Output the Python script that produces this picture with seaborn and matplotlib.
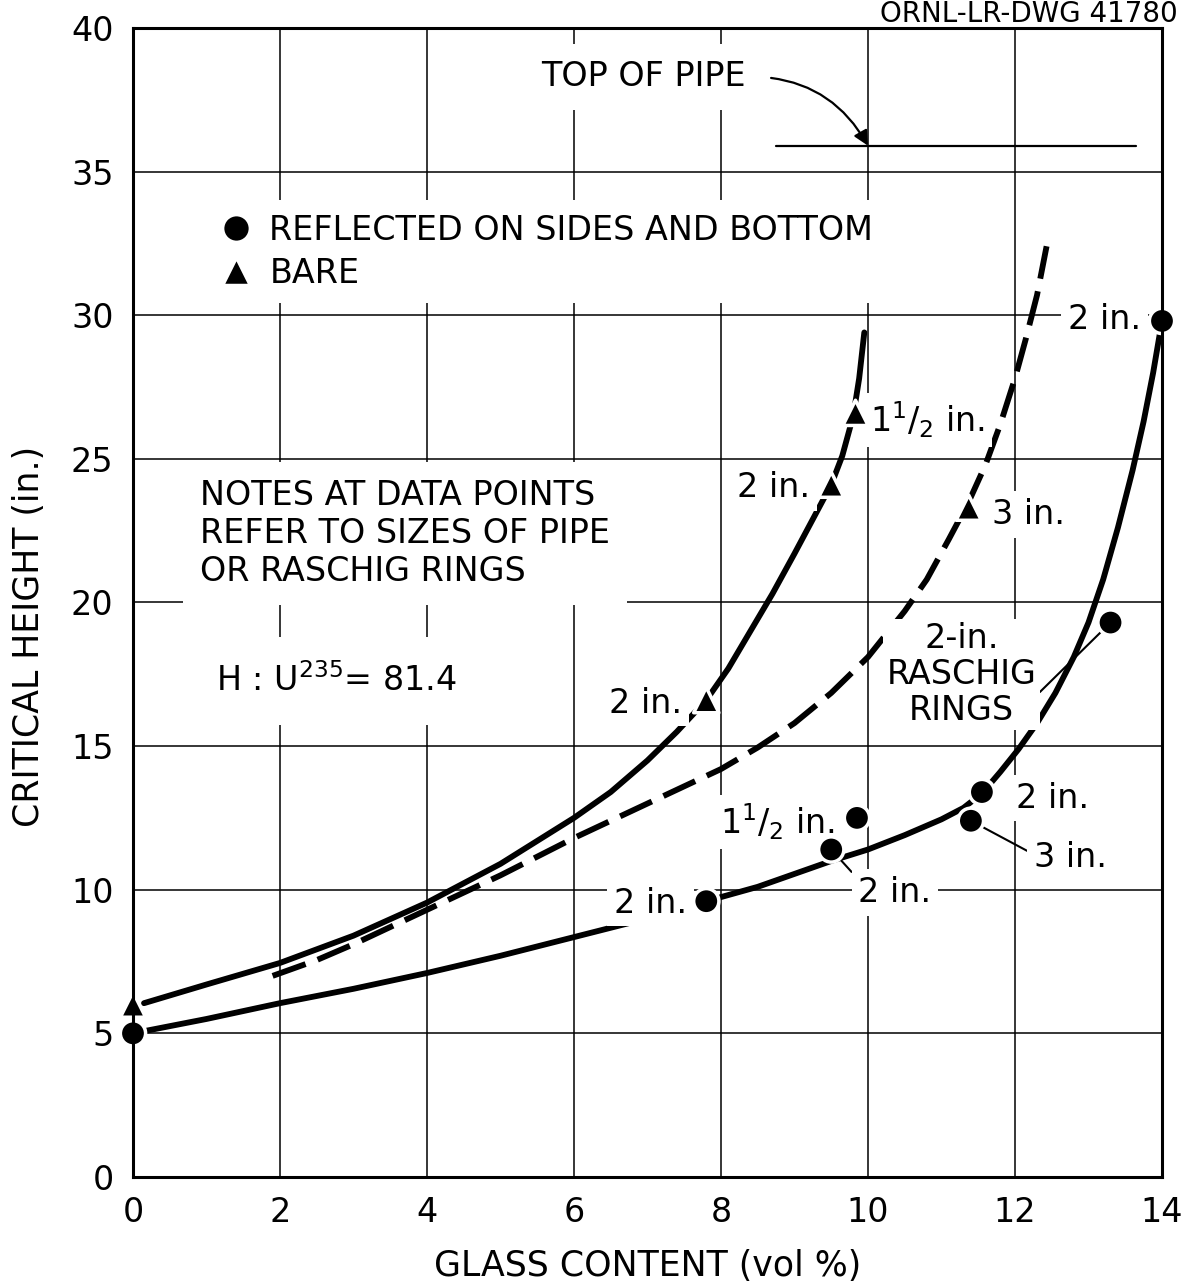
import numpy as np
import pandas as pd
import matplotlib
matplotlib.use("Agg")
import matplotlib.pyplot as plt
import seaborn as sns

sns.set_theme(style="white")
plt.rcParams['font.family'] = ['DejaVu Sans']
plt.rcParams['mathtext.fontset'] = 'dejavusans'
for k in ['text.color', 'axes.labelcolor', 'xtick.color', 'ytick.color']:
    plt.rcParams[k] = 'black'

# ---------------- data ----------------
refl_x = [0.0, 7.8, 9.5, 9.85, 11.4, 11.55, 13.3, 14.0]
refl_y = [5.0, 9.6, 11.4, 12.5, 12.4, 13.4, 19.3, 29.8]
bare_x = [0.0, 7.8, 9.5, 9.83, 11.37]
bare_y = [6.0, 16.6, 24.1, 26.6, 23.3]

# curves
bare_curve_x = [0.15, 1.0, 2.0, 3.0, 4.0, 5.0, 6.0, 6.5, 7.0, 7.4, 7.8, 8.1, 8.4, 8.7,
                9.0, 9.25, 9.5, 9.65, 9.8, 9.88, 9.95]
bare_curve_y = [6.05, 6.7, 7.45, 8.4, 9.55, 10.9, 12.5, 13.4, 14.5, 15.5, 16.6, 17.7, 19.0, 20.3,
                21.7, 22.9, 24.1, 25.1, 26.5, 27.8, 29.4]

dash_curve_x = [1.9, 2.5, 3.0, 3.5, 4.0, 4.5, 5.0, 5.5, 6.0, 6.5, 7.0, 7.5, 8.0, 8.5,
                9.0, 9.5, 10.0, 10.5, 10.8, 11.1, 11.37, 11.6, 11.8, 12.0, 12.15, 12.3, 12.43]
dash_curve_y = [7.0, 7.55, 8.1, 8.7, 9.3, 9.9, 10.5, 11.15, 11.8, 12.4, 13.0, 13.6, 14.2, 14.95,
                15.8, 16.85, 18.1, 19.7, 20.8, 22.2, 23.5, 24.8, 26.2, 27.8, 29.2, 30.7, 32.4]

refl_curve_x = [0.0, 1.0, 2.0, 3.0, 4.0, 5.0, 6.0, 7.0, 7.8, 8.5, 9.0, 9.5, 10.0, 10.5,
                11.0, 11.3, 11.55, 11.8, 12.05, 12.3, 12.55, 12.8, 13.0, 13.2, 13.4, 13.6,
                13.75, 13.88, 14.0]
refl_curve_y = [5.0, 5.5, 6.05, 6.55, 7.1, 7.7, 8.35, 9.0, 9.6, 10.1, 10.55, 11.0, 11.4, 11.9,
                12.45, 12.85, 13.35, 14.1, 14.9, 15.8, 16.85, 18.1, 19.3, 20.8, 22.6, 24.6,
                26.3, 28.0, 29.8]

pipe_top_x = [8.75, 13.65]
pipe_top_y = [35.9, 35.9]

x_ticks = [0, 2, 4, 6, 8, 10, 12, 14]
y_ticks = [0, 5, 10, 15, 20, 25, 30, 35, 40]

LBL_REFL = "REFLECTED ON SIDES AND BOTTOM"
LBL_BARE = "BARE"

HALF = r"1$^{1}$/$_{2}$ in."

# ---------------- figure ----------------
FS = 24
fig = plt.figure(figsize=(11.81, 12.87), dpi=100)
ax = fig.add_axes([0.1126, 0.0855, 0.8713, 0.8928])

ax.set_xlim(0, 14)
ax.set_ylim(0, 40)
ax.set_xticks(x_ticks)
ax.set_yticks(y_ticks)
ax.set_xticklabels([str(t) for t in x_ticks], fontsize=FS)
ax.set_yticklabels([str(t) for t in y_ticks], fontsize=FS)
ax.tick_params(length=0, pad=14, colors='black')
ax.set_axisbelow(True)
ax.grid(True, color='black', lw=1.1)
for s in ax.spines.values():
    s.set_color('black')
    s.set_linewidth(2.2)
    s.set_zorder(5)

# curves
sns.lineplot(x=bare_curve_x, y=bare_curve_y, ax=ax, color='black', lw=4.2,
             sort=False, estimator=None, zorder=2)
sns.lineplot(x=dash_curve_x, y=dash_curve_y, ax=ax, color='black', lw=4.2,
             sort=False, estimator=None, zorder=2, linestyle=(0, (6, 2.2)))
sns.lineplot(x=refl_curve_x, y=refl_curve_y, ax=ax, color='black', lw=4.2,
             sort=False, estimator=None, zorder=2)

# top of pipe
ax.plot(pipe_top_x, pipe_top_y, color='black', lw=1.6, zorder=2)

# points
df = pd.DataFrame({
    'x': refl_x + bare_x,
    'y': refl_y + bare_y,
    'type': [LBL_REFL] * len(refl_x) + [LBL_BARE] * len(bare_x),
})
sns.scatterplot(data=df, x='x', y='y', style='type',
                markers={LBL_REFL: 'o', LBL_BARE: '^'},
                color='black', s=330, edgecolor='white', linewidth=2.5,
                ax=ax, zorder=4, clip_on=False)
sns.move_legend(ax, 'upper left', bbox_to_anchor=(0.071, 0.850), title=None,
                frameon=True, framealpha=1, facecolor='white', edgecolor='none',
                fontsize=FS, labelspacing=0.3, handlelength=1.0, handletextpad=0.5,
                borderpad=0.4, borderaxespad=0, fancybox=False, markerscale=1.1)
ax.set_xlabel("GLASS CONTENT (vol %)", fontsize=25)
ax.set_ylabel("CRITICAL HEIGHT (in.)", fontsize=25)
ax.xaxis.set_label_coords(0.5, -0.063)
ax.yaxis.set_label_coords(-0.085, 0.47)


def lab(txt, x, y, dx, dy, ha, leader=None, pad=0.2, **kw):
    b = dict(boxstyle='square,pad=%g' % pad, fc='white', ec='none')
    ap = None
    if leader is not None:
        ap = dict(arrowstyle='-', lw=1.5, color='black', shrinkA=0, shrinkB=9,
                  relpos=leader)
    ax.annotate(txt, xy=(x, y), xytext=(dx, dy), textcoords='offset pixels',
                ha=ha, va='center', fontsize=FS, bbox=b, zorder=3,
                arrowprops=ap, **kw)


# labels at reflected points
lab("2 in.", refl_x[1], refl_y[1], -19, -2, 'right')
lab("2 in.", refl_x[2], refl_y[2], 27, -43, 'left', leader=(0.0, 0.9))
lab(HALF, refl_x[3], refl_y[3], -22, -4, 'right')
lab("3 in.", refl_x[4], refl_y[4], 63, -37, 'left', leader=(0.0, 0.6))
lab("2 in.", refl_x[5], refl_y[5], 34, -6, 'left')
lab("2-in.\nRASCHIG\nRINGS", refl_x[6], refl_y[6], -149, -52, 'center',
    leader=(1.0, 0.3), pad=0.1, multialignment='center', linespacing=1.1)
lab("2 in.", refl_x[7], refl_y[7], -21, 1, 'right')
# labels at bare points
lab("2 in.", bare_x[1], bare_y[1], -24, -3, 'right')
lab("2 in.", bare_x[2], bare_y[2], -21, -3, 'right')
lab(HALF, bare_x[3], bare_y[3], 15, -7, 'left')
lab("3 in.", bare_x[4], bare_y[4], 23, -7, 'left')

# top of pipe annotation
ax.annotate("TOP OF PIPE", xy=(10.0, 35.9), xytext=(6.95, 38.3),
            ha='center', va='center', fontsize=FS,
            bbox=dict(boxstyle='square,pad=0.5', fc='white', ec='none'), zorder=3,
            arrowprops=dict(arrowstyle='-|>', lw=1.6, color='black',
                            connectionstyle='arc3,rad=-0.3', relpos=(1.0, 0.5),
                            shrinkA=6, shrinkB=0, mutation_scale=22))

# notes
ax.text(0.91, 22.4, "NOTES AT DATA POINTS\nREFER TO SIZES OF PIPE\nOR RASCHIG RINGS",
        ha='left', va='center', fontsize=FS, linespacing=1.2, zorder=3,
        bbox=dict(boxstyle='square,pad=0.5', fc='white', ec='none'))
ax.text(2.77, 17.27, r"H : U$^{235}$= 81.4", ha='center', va='center', fontsize=FS,
        zorder=3, bbox=dict(boxstyle='square,pad=0.8', fc='white', ec='none'))

fig.text(1178 / 1181, 1.0, "ORNL-LR-DWG 41780", ha='right', va='top',
         fontsize=20)

fig.savefig("out.png", dpi=100)
